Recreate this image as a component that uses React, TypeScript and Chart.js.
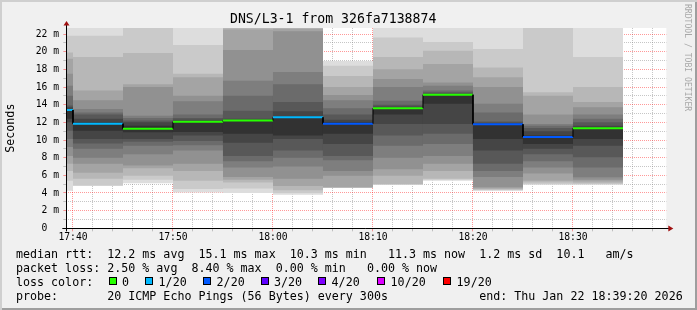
import React, { useEffect, useRef } from 'react';
import { Chart, registerables } from 'chart.js';

Chart.register(...registerables);

const MONO = '"DejaVu Sans Mono", monospace';

// ---- data -----------------------------------------------------------------
// 5-minute bins (start time); each holds the 20 sorted ping RTTs (ms)
const binStarts = ['17:35', '17:40', '17:45', '17:50', '17:55', '18:00', '18:05', '18:10', '18:15', '18:20', '18:25', '18:30'];
const binMinutes = 5;

const pings1735 = [4.26, 5.4, 6.5, 7.3, 8.2, 9.2, 10.1, 11.05, 12.0, 12.4, 13.5, 13.7, 13.9, 15.0, 16.15, 17.5, 19.2, 19.9, 21.8, 25.0];
const pings1740 = [4.8, 4.85, 5.6, 6.3, 7.3, 8.0, 9.0, 9.6, 10.1, 11.05, 12.0, 12.4, 12.9, 13.1, 13.5, 14.5, 15.6, 19.4, 21.8, 25.0];
const pings1745 = [5.1, 5.5, 5.96, 6.8, 7.1, 8.4, 9.35, 9.8, 10.1, 10.87, 11.6, 12.0, 12.2, 12.5, 12.75, 16.0, 16.3, 19.85, 23.5, 26.0];
const pings1750 = [4.05, 4.45, 5.4, 6.5, 7.3, 8.8, 9.4, 9.9, 10.5, 10.9, 12.15, 12.3, 12.5, 12.9, 14.4, 15.0, 17.1, 17.5, 20.75, 26.0];
const pings1755 = [4.0, 4.5, 5.2, 5.5, 5.8, 6.9, 7.6, 8.2, 9.7, 10.7, 12.25, 12.4, 13.3, 15.0, 16.7, 20.2, 22.5, 24.0, 26.0, 28.0];
const pings1800 = [3.8, 4.0, 4.3, 4.8, 5.6, 7.0, 8.0, 8.8, 10.1, 10.5, 12.65, 13.25, 14.3, 16.3, 17.7, 22.3, 22.6, 24.0, 26.0, 30.0];
const pings1805 = [4.56, 4.58, 4.62, 4.65, 5.95, 6.5, 7.7, 8.2, 9.55, 10.7, 12.0, 12.3, 12.9, 13.6, 14.5, 15.1, 16.0, 17.25, 18.4, 18.95];
const pings1810 = [4.94, 4.96, 5.0, 5.95, 6.7, 8.0, 9.35, 10.5, 11.8, 12.9, 13.65, 13.8, 14.0, 14.45, 16.0, 16.9, 18.0, 19.4, 21.6, 25.0];
const pings1815 = [5.4, 5.5, 5.6, 6.5, 7.3, 8.2, 9.55, 10.7, 11.8, 14.1, 15.15, 15.25, 15.4, 15.6, 16.15, 16.5, 18.6, 20.1, 21.1, 24.0];
const pings1820 = [4.26, 4.3, 4.4, 4.5, 4.65, 5.8, 6.5, 7.3, 8.8, 10.1, 11.85, 11.95, 12.1, 13.1, 14.1, 16.0, 17.1, 18.2, 20.3, 26.0];
const pings1825 = [4.94, 5.0, 5.2, 5.4, 6.2, 6.9, 7.6, 8.4, 9.0, 9.55, 10.5, 11.0, 11.35, 11.6, 11.8, 12.9, 15.0, 15.4, 24.0, 26.0];
const pings1830 = [4.94, 5.0, 5.1, 5.3, 5.5, 5.77, 6.9, 8.04, 9.35, 10.1, 11.4, 11.6, 12.0, 12.4, 12.9, 13.7, 14.3, 16.0, 19.4, 25.0];

const binPings = [pings1735, pings1740, pings1745, pings1750, pings1755, pings1800, pings1805, pings1810, pings1815, pings1820, pings1825, pings1830];

const medianRtt = [13.4, 11.85, 11.28, 12.07, 12.2, 12.57, 11.85, 13.6, 15.13, 11.78, 10.34, 11.33];
const lostPings = [1, 1, 0, 0, 0, 1, 2, 0, 0, 2, 2, 0];

const lossThresholds = [0, 1, 2, 3, 4, 10, 19];
const lossLabels = ['0', '1/20', '2/20', '3/20', '4/20', '10/20', '19/20'];
const lossColors = ['#26ff00', '#00b8ff', '#0059ff', '#5e00ff', '#7e00ff', '#dd00ff', '#ff0000'];

const xTickTimes = ['17:40', '17:42', '17:44', '17:46', '17:48', '17:50', '17:52', '17:54', '17:56', '17:58',
  '18:00', '18:02', '18:04', '18:06', '18:08', '18:10', '18:12', '18:14', '18:16', '18:18',
  '18:20', '18:22', '18:24', '18:26', '18:28', '18:30', '18:32', '18:34', '18:36', '18:38'];
const xLabelTimes = ['17:40', '17:50', '18:00', '18:10', '18:20', '18:30'];
const yTickValues = [0, 1, 2, 3, 4, 5, 6, 7, 8, 9, 10, 11, 12, 13, 14, 15, 16, 17, 18, 19, 20, 21, 22];
const yLabelValues = [0, 2, 4, 6, 8, 10, 12, 14, 16, 18, 20, 22];
const windowStart = '17:39:20';
const windowEnd = '18:39:20';
const yMax = 22.68;

const legendRtt = 'median rtt:  12.2 ms avg  15.1 ms max  10.3 ms min   11.3 ms now  1.2 ms sd  10.1   am/s';
const legendLoss = 'packet loss: 2.50 % avg  8.40 % max  0.00 % min   0.00 % now';
const legendProbe = 'probe:       20 ICMP Echo Pings (56 Bytes) every 300s             end: Thu Jan 22 18:39:20 2026';

// ---- layout ---------------------------------------------------------------
const W = 697;
const H = 310;
const PLOT_LEFT = 66.33;
const PLOT_RIGHT = 666.33;
const PLOT_TOP = 28;
const PLOT_BOTTOM = 228.33;
const X_AXIS_H = 20;
const LEGEND_TOPS = [247.3, 261.1, 274.9, 288.7];
const BOX_X = [108.7, 145.3, 203.3, 260.7, 318.3, 377.3, 443.3];

const RED_GRID = 'rgba(255,0,0,0.4)';
const GRAY_GRID = 'rgba(128,128,128,0.45)';

function toMinutes(t: string): number {
  const [h, m, s] = t.split(':');
  return (Number(h) - 17) * 60 + Number(m) + (s ? Number(s) / 60 : 0);
}
function fmtMinutes(v: number): string {
  const total = Math.round(v) + 17 * 60;
  const h = Math.floor(total / 60);
  const m = total % 60;
  return `${h}:${String(m).padStart(2, '0')}`;
}
function lossColor(n: number): string {
  let idx = 0;
  lossThresholds.forEach((t, i) => { if (n >= t) idx = i; });
  return lossColors[idx];
}

const xLabelSet = new Set(xLabelTimes.map(toMinutes));

function buildConfig(): any {
  const half = 10;
  const bands = Array.from({ length: half }, (_, i) => {
    const k = i + 1;
    const g = Math.floor((190 / half) * (half - k)) + 50;
    return {
      type: 'bar',
      label: `smoke ${k}`,
      data: binPings.map((p, b) => ({
        x: toMinutes(binStarts[b]) + binMinutes / 2,
        y: [p[k - 1], p[p.length - k]],
      })),
      backgroundColor: `rgb(${g},${g},${g})`,
      borderWidth: 0,
      stack: 'smoke',
      barPercentage: 1,
      categoryPercentage: 1,
      barThickness: 'flex',
      inflateAmount: 0,
      order: half + 2 - k,
      clip: 0,
    };
  });

  const medianPoints: { x: number; y: number }[] = [];
  binStarts.forEach((s, b) => {
    const x0 = toMinutes(s);
    medianPoints.push({ x: x0, y: medianRtt[b] }, { x: x0 + binMinutes, y: medianRtt[b] });
  });

  const median = {
    type: 'line',
    label: 'median rtt',
    data: medianPoints,
    borderColor: '#000',
    borderWidth: 1,
    pointRadius: 0,
    tension: 0,
    order: 0,
    clip: 0,
    segment: {
      borderColor: (c: any) => (Math.abs(c.p0.x - c.p1.x) < 0.01 ? '#000000' : lossColor(lostPings[Math.floor(c.p0DataIndex / 2)])),
      borderWidth: (c: any) => (Math.abs(c.p0.x - c.p1.x) < 0.01 ? 1 : 2),
    },
  };

  const rrdPlugin = {
    id: 'rrdLook',
    beforeDraw(chart: any) {
      const { ctx, chartArea: a } = chart;
      ctx.save();
      ctx.fillStyle = '#ffffff';
      ctx.fillRect(a.left, a.top, a.right - a.left, a.bottom - a.top);
      ctx.restore();
    },
    afterDraw(chart: any) {
      const { ctx, chartArea: a } = chart;
      const yx = Math.floor(a.left) + 0.5;
      const xy = Math.floor(a.bottom) + 0.5;
      ctx.save();
      ctx.strokeStyle = '#000000';
      ctx.lineWidth = 1;
      ctx.beginPath();
      ctx.moveTo(a.left - 4, xy);
      ctx.lineTo(a.right + 3, xy);
      ctx.moveTo(yx, a.bottom + 3);
      ctx.lineTo(yx, a.top - 3);
      ctx.stroke();
      ctx.fillStyle = '#a01010';
      ctx.beginPath();
      ctx.moveTo(yx - 3, a.top - 2.5);
      ctx.lineTo(yx + 3, a.top - 2.5);
      ctx.lineTo(yx, a.top - 7);
      ctx.closePath();
      ctx.fill();
      ctx.beginPath();
      ctx.moveTo(a.right + 2, xy - 3);
      ctx.lineTo(a.right + 2, xy + 3);
      ctx.lineTo(a.right + 7, xy);
      ctx.closePath();
      ctx.fill();
      ctx.restore();
    },
  };

  const titleSize = 13.2;
  const titlePadTop = 11.5;

  return {
    type: 'bar',
    data: { datasets: [...bands, median] },
    plugins: [rrdPlugin],
    options: {
      responsive: false,
      animation: false,
      events: [],
      layout: { padding: { left: 0, top: 0, right: W - PLOT_RIGHT, bottom: H - PLOT_BOTTOM - X_AXIS_H } },
      plugins: {
        legend: { display: false },
        tooltip: { enabled: false },
        title: {
          display: true,
          text: 'DNS/L3-1 from 326fa7138874',
          color: '#000',
          font: { family: MONO, size: titleSize, weight: 'normal', lineHeight: 1.2 },
          padding: { top: titlePadTop, bottom: PLOT_TOP - titlePadTop - titleSize * 1.2 },
        },
      },
      scales: {
        x: {
          type: 'linear',
          min: toMinutes(windowStart),
          max: toMinutes(windowEnd),
          offset: false,
          z: 1,
          afterBuildTicks: (s: any) => { s.ticks = xTickTimes.map((t) => ({ value: toMinutes(t) })); },
          afterFit: (s: any) => { s.height = X_AXIS_H; },
          grid: {
            offset: false,
            lineWidth: 1,
            tickLength: 3,
            color: (c: any) => (c.tick && xLabelSet.has(c.tick.value) ? RED_GRID : GRAY_GRID),
            tickColor: (c: any) => (c.tick && xLabelSet.has(c.tick.value) ? RED_GRID : GRAY_GRID),
          },
          border: { display: false, dash: [1, 1] },
          ticks: {
            autoSkip: false,
            maxRotation: 0,
            minRotation: 0,
            padding: 0.5,
            color: '#000',
            font: { family: MONO, size: 9.7 },
            callback: (v: number) => (xLabelSet.has(v) ? fmtMinutes(v) : ''),
          },
        },
        y: {
          type: 'linear',
          min: 0,
          max: yMax,
          stacked: false,
          z: 1,
          afterBuildTicks: (s: any) => { s.ticks = yTickValues.map((v) => ({ value: v })); },
          afterFit: (s: any) => { s.width = PLOT_LEFT; },
          grid: {
            lineWidth: 1,
            tickLength: 3,
            color: (c: any) => (c.tick && yLabelValues.includes(c.tick.value) ? RED_GRID : GRAY_GRID),
            tickColor: (c: any) => (c.tick && yLabelValues.includes(c.tick.value) ? RED_GRID : GRAY_GRID),
          },
          border: { display: false, dash: [1, 1] },
          title: {
            display: true,
            text: 'Seconds',
            color: '#000',
            font: { family: MONO, size: 11.66 },
            padding: { top: 4, bottom: 0 },
          },
          ticks: {
            autoSkip: false,
            padding: 4.3,
            color: '#000',
            font: { family: MONO, size: 9.7 },
            callback: (v: number) => (yLabelValues.includes(v) ? (v === 0 ? '0  ' : `${v} m`) : ''),
          },
        },
      },
    },
  };
}

const textStyle: React.CSSProperties = {
  position: 'absolute',
  fontFamily: MONO,
  fontSize: '11.66px',
  lineHeight: '14px',
  whiteSpace: 'pre',
  color: '#000',
};

export default function App() {
  const ref = useRef<HTMLCanvasElement>(null);

  useEffect(() => {
    const chart = new Chart(ref.current as HTMLCanvasElement, buildConfig());
    return () => chart.destroy();
  }, []);

  return (
    <div style={{ position: 'fixed', left: 0, top: 0, width: W, height: H, background: '#f0f0f0', overflow: 'hidden' }}>
      <canvas ref={ref} width={W} height={H} style={{ position: 'absolute', left: 0, top: 0, width: W, height: H }} />
      <div style={{ ...textStyle, left: 16, top: LEGEND_TOPS[0] }}>{legendRtt}</div>
      <div style={{ ...textStyle, left: 16, top: LEGEND_TOPS[1] }}>{legendLoss}</div>
      <div style={{ ...textStyle, left: 16, top: LEGEND_TOPS[2] }}>loss color:</div>
      {lossLabels.map((l, i) => (
        <React.Fragment key={l}>
          <div
            style={{
              position: 'absolute',
              left: BOX_X[i],
              top: 277.3,
              width: 8,
              height: 8,
              boxSizing: 'border-box',
              border: '1px solid #000',
              background: lossColors[i],
            }}
          />
          <div style={{ ...textStyle, left: BOX_X[i] + 13.3, top: LEGEND_TOPS[2] }}>{l}</div>
        </React.Fragment>
      ))}
      <div style={{ ...textStyle, left: 16, top: LEGEND_TOPS[3] }}>{legendProbe}</div>
      <div
        style={{
          position: 'absolute',
          left: 683,
          top: 4,
          writingMode: 'vertical-rl',
          fontFamily: MONO,
          fontSize: '8.1px',
          lineHeight: '10px',
          color: '#a8a8a8',
          whiteSpace: 'pre',
        }}
      >
        RRDTOOL / TOBI OETIKER
      </div>
      <div
        style={{
          position: 'absolute',
          left: 0,
          top: 0,
          width: W,
          height: H,
          boxSizing: 'border-box',
          boxShadow: 'inset 2px 2px 0 #cfcfcf, inset -2px -2px 0 #9e9e9e',
          pointerEvents: 'none',
        }}
      />
    </div>
  );
}
